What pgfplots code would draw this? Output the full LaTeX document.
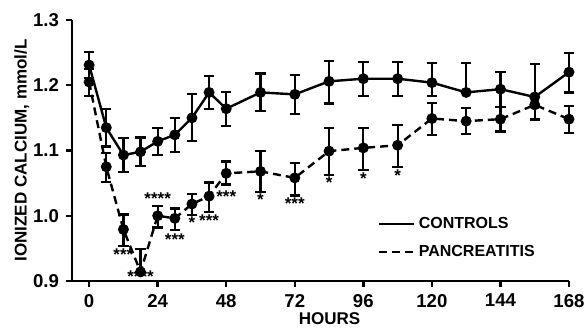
\documentclass[border=0pt]{standalone}
\usepackage{pgfplots}
\pgfplotsset{compat=1.18}
\usepackage{fontspec}
\setmainfont{Liberation Sans}
\pgfplotstableread{
x y ep em
0 1.231 0.020 0.020
6 1.135 0.029 0.029
12 1.093 0.026 0.026
18 1.098 0.022 0.022
24 1.114 0.021 0.021
30 1.124 0.026 0.026
36 1.150 0.036 0.036
42 1.189 0.025 0.025
48 1.164 0.026 0.026
60 1.189 0.029 0.029
72 1.186 0.030 0.030
84 1.206 0.031 0.034
96 1.210 0.026 0.026
108 1.210 0.026 0.026
120 1.204 0.030 0.020
132 1.189 0.045 0.000
144 1.194 0.026 0.027
156 1.182 0.050 0.035
168 1.220 0.030 0.031
}\controls
\pgfplotstableread{
x y ep em
0 1.205 0.020 0.022
6 1.075 0.021 0.023
12 0.979 0.023 0.025
18 0.914 0.035 0.000
24 1.000 0.015 0.018
30 0.996 0.015 0.018
36 1.018 0.015 0.017
42 1.030 0.021 0.024
48 1.065 0.018 0.017
60 1.068 0.031 0.032
72 1.058 0.023 0.027
84 1.099 0.036 0.037
96 1.104 0.031 0.034
108 1.108 0.031 0.033
120 1.149 0.024 0.025
132 1.145 0.020 0.020
144 1.148 0.019 0.019
156 1.170 0.000 0.022
168 1.148 0.020 0.021
}\pancreatitis
\begin{document}
\begin{tikzpicture}
\begin{axis}[
  scale only axis, width=248.5pt, height=130.5pt,
  xmin=-6, xmax=168, ymin=0.9, ymax=1.3,
  axis x line*=bottom, axis y line*=left,
  axis line style={line width=1.2pt},
  every tick/.style={black, line width=1.2pt},
  tick align=outside, major tick length=3pt,
  xtick={0,24,48,72,96,120,144,168},
  ytick={0.9,1.0,1.1,1.2,1.3},
  /pgf/number format/assume math mode=true,
  ticklabel style={font=\bfseries\fontsize{9.3}{10}\selectfont},
  yticklabel style={/pgf/number format/.cd, fixed, fixed zerofill, precision=1},
  xlabel={HOURS},
  ylabel={IONIZED CALCIUM, mmol/L},
  label style={font=\bfseries\fontsize{8.5}{10}\selectfont},
  xlabel style={yshift=4pt, xshift=4.5pt},
  ylabel style={yshift=-5pt},
  clip=false,
  legend style={draw=none, fill=none, at={(axis cs:100.8,1.005)}, anchor=north west,
    font=\bfseries\fontsize{8}{9.5}\selectfont, row sep=3pt, inner sep=0pt,
    cells={anchor=west}},
  legend image code/.code={\draw[#1] (0pt,0pt) -- (17.5pt,0pt);},
]
\addplot[black, line width=1.2pt, mark=*, mark size=2.1pt, mark options={solid},
  error bars/.cd, y dir=both, y explicit,
  error bar style={line width=1.1pt, solid},
  error mark options={rotate=90, mark size=2.6pt, line width=1.1pt, solid}]
  table[x=x, y=y, y error plus=ep, y error minus=em] {\controls};
\addlegendentry{CONTROLS}
\addplot[black, line width=1.2pt, dash pattern=on 4pt off 2.5pt, mark=*, mark size=2.1pt, mark options={solid},
  error bars/.cd, y dir=both, y explicit,
  error bar style={line width=1.1pt, solid},
  error mark options={rotate=90, mark size=2.6pt, line width=1.1pt, solid}]
  table[x=x, y=y, y error plus=ep, y error minus=em] {\pancreatitis};
\addlegendentry{PANCREATITIS}
\tikzset{ast/.style={font=\bfseries\fontsize{8.5}{8}\selectfont, inner sep=0pt}}
\node[ast] at (axis cs:12,0.940) {***};
\node[ast] at (axis cs:18,0.906) {****};
\node[ast] at (axis cs:24,1.026) {****};
\node[ast] at (axis cs:30,0.964) {***};
\node[ast] at (axis cs:36,0.989) {*};
\node[ast] at (axis cs:42,0.992) {***};
\node[ast] at (axis cs:48,1.030) {***};
\node[ast] at (axis cs:60,1.024) {*};
\node[ast] at (axis cs:72,1.018) {***};
\node[ast] at (axis cs:84,1.050) {*};
\node[ast] at (axis cs:96,1.057) {*};
\node[ast] at (axis cs:108,1.061) {*};
\coordinate (O) at (rel axis cs:0,0);
\end{axis}
\pgfresetboundingbox
\path (O) ++(-36pt,-25pt) rectangle ++(293pt,165.5pt);
\end{tikzpicture}
\end{document}
